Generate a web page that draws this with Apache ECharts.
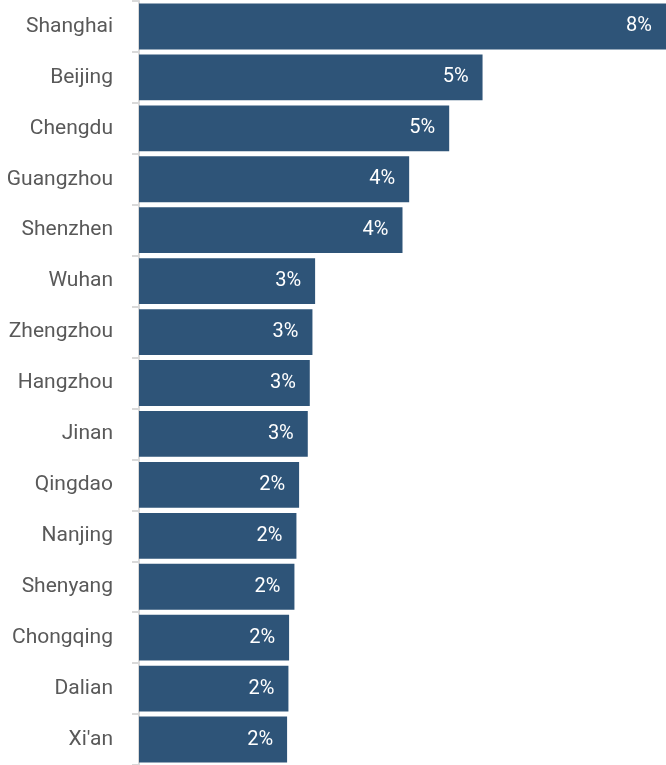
<!DOCTYPE html>
<html>
<head>
<meta charset="utf-8">
<script src="https://cdn.jsdelivr.net/npm/echarts@6/dist/echarts.min.js"></script>
<style>
  html, body { margin: 0; padding: 0; background: #fff; }
  #chart { width: 666px; height: 765px; }
</style>
</head>
<body>
<div id="chart"></div>
<script>
// Share of total by city (%)
const cities = ['Shanghai', 'Beijing', 'Chengdu', 'Guangzhou', 'Shenzhen', 'Wuhan', 'Zhengzhou',
  'Hangzhou', 'Jinan', 'Qingdao', 'Nanjing', 'Shenyang', 'Chongqing', 'Dalian', "Xi'an"];
const shares = [7.9, 5.15, 4.65, 4.05, 3.95, 2.64, 2.6, 2.56, 2.53, 2.4, 2.36, 2.33, 2.25, 2.24, 2.22];

const chart = echarts.init(document.getElementById('chart'));
chart.setOption({
  animation: false,
  grid: { left: 139, right: 0, top: 1, bottom: -2, containLabel: false },
  xAxis: {
    type: 'value',
    min: 0,
    max: 'dataMax',
    show: false
  },
  yAxis: {
    type: 'category',
    data: cities,
    inverse: true,
    offset: 2,
    axisLine: { show: true, lineStyle: { color: '#d9d9d9', width: 2 } },
    axisTick: { show: true, length: 7, lineStyle: { color: '#d9d9d9', width: 2 } },
    axisLabel: {
      color: '#595959',
      fontFamily: 'Roboto',
      fontSize: 21,
      margin: 24,
      padding: [2, 0, 0, 0]
    },
    splitLine: { show: false }
  },
  series: [{
    type: 'bar',
    data: shares,
    barCategoryGap: '10%',
    itemStyle: { color: '#2e5478' },
    label: {
      show: true,
      position: 'insideRight',
      distance: 14,
      color: '#ffffff',
      fontFamily: 'Roboto',
      fontSize: 20,
      formatter: p => Math.round(p.value) + '%'
    }
  }]
});
</script>
</body>
</html>
